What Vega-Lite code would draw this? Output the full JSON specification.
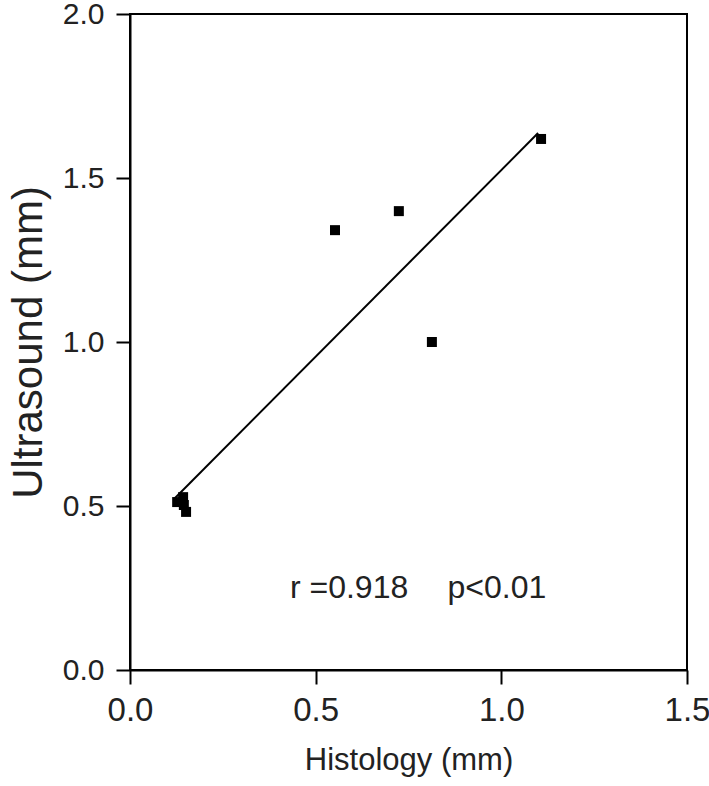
{
  "$schema": "https://vega.github.io/schema/vega-lite/v6.json",
  "autosize": "none",
  "width": 557,
  "height": 656,
  "padding": {"left": 130, "top": 14, "right": 22, "bottom": 116},
  "background": "white",
  "view": {"stroke": "black", "strokeWidth": 2},
  "config": {
    "font": "Liberation Sans",
    "axis": {
      "grid": false,
      "labelFlush": false,
      "domainColor": "black",
      "domainWidth": 2,
      "tickColor": "black",
      "tickWidth": 2,
      "tickSize": 14,
      "labelFont": "Liberation Sans",
      "labelColor": "#222",
      "titleFont": "Liberation Sans",
      "titleFontWeight": "normal",
      "titleColor": "#222",
      "format": ".1f"
    }
  },
  "datasets": {
    "points": [
      {"histology": 1.107, "ultrasound": 1.619},
      {"histology": 0.724, "ultrasound": 1.399},
      {"histology": 0.552, "ultrasound": 1.341},
      {"histology": 0.813, "ultrasound": 1.0},
      {"histology": 0.127, "ultrasound": 0.512},
      {"histology": 0.143, "ultrasound": 0.527},
      {"histology": 0.145, "ultrasound": 0.503},
      {"histology": 0.151, "ultrasound": 0.482}
    ],
    "fit": [
      {"histology": 0.12, "ultrasound": 0.523},
      {"histology": 1.099, "ultrasound": 1.637}
    ],
    "notes": [
      {"histology": 0.59, "ultrasound": 0.25, "label": "r =0.918"},
      {"histology": 0.988, "ultrasound": 0.25, "label": "p<0.01"}
    ]
  },
  "layer": [
    {
      "data": {"name": "fit"},
      "mark": {"type": "line", "color": "black", "strokeWidth": 2},
      "encoding": {
        "x": {"field": "histology", "type": "quantitative", "scale": {"domain": [0, 1.5], "nice": false},
              "axis": {"values": [0, 0.5, 1, 1.5], "title": "Histology (mm)", "labelFontSize": 33, "labelPadding": 10, "titleFontSize": 31, "titlePadding": 18}},
        "y": {"field": "ultrasound", "type": "quantitative", "scale": {"domain": [0, 2], "nice": false},
              "axis": {"values": [0, 0.5, 1, 1.5, 2], "title": "Ultrasound (mm)", "labelFontSize": 30, "labelPadding": 12, "titleFontSize": 42, "titlePadding": 12}}
      }
    },
    {
      "data": {"name": "points"},
      "mark": {"type": "point", "shape": "square", "filled": true, "color": "black", "size": 100, "opacity": 1},
      "encoding": {
        "x": {"field": "histology", "type": "quantitative"},
        "y": {"field": "ultrasound", "type": "quantitative"}
      }
    },
    {
      "data": {"name": "notes"},
      "mark": {"type": "text", "fontSize": 32, "color": "#222", "baseline": "middle", "align": "center"},
      "encoding": {
        "x": {"field": "histology", "type": "quantitative"},
        "y": {"field": "ultrasound", "type": "quantitative"},
        "text": {"field": "label"}
      }
    }
  ]
}
